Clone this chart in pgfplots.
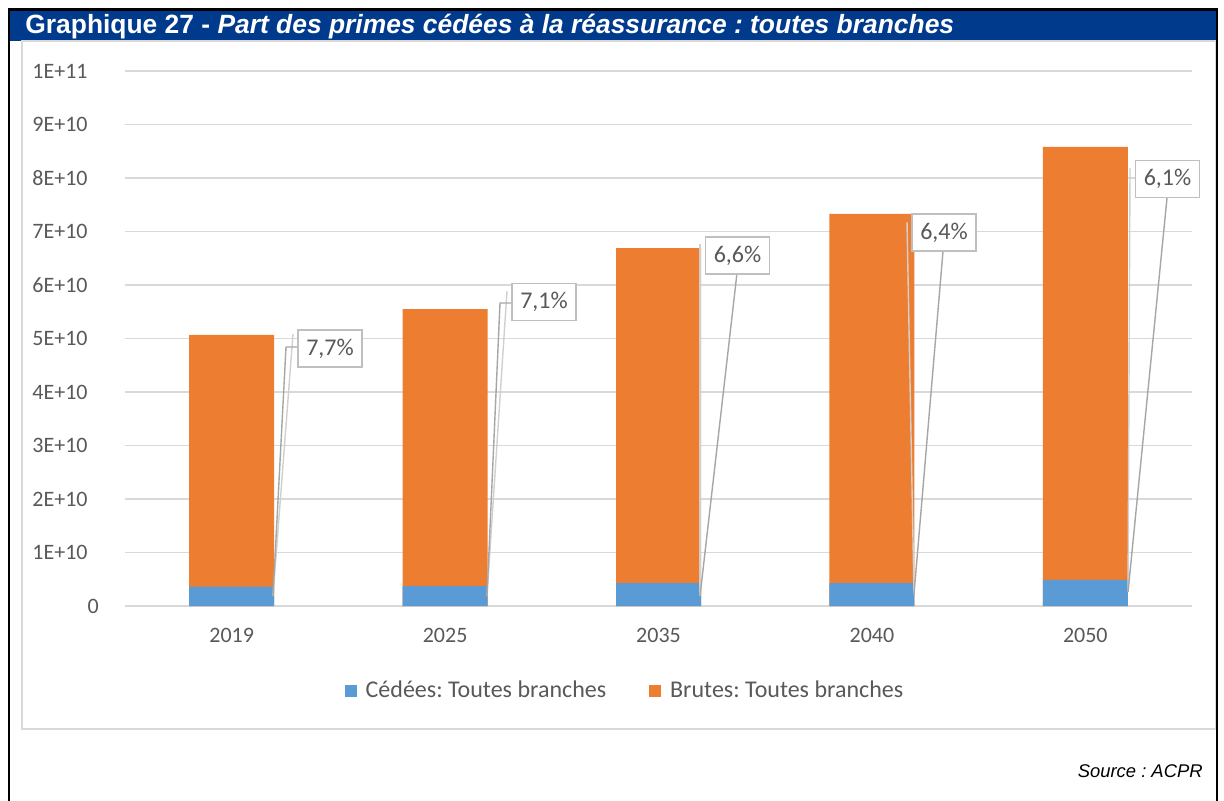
\documentclass[border=0pt]{standalone}
\usepackage{fontspec}
\setmainfont{Carlito}
\newfontfamily\arial{Liberation Sans}
\usepackage{pgfplots}
\pgfplotsset{compat=1.18}

\definecolor{titleblue}{RGB}{0,58,140}
\definecolor{cedblue}{HTML}{5B9BD5}
\definecolor{brutorange}{HTML}{ED7D31}
\definecolor{gridgray}{HTML}{D9D9D9}
\definecolor{txtgray}{HTML}{595959}
\definecolor{leadgray}{HTML}{A6A6A6}
\definecolor{leadlight}{HTML}{D0D0D0}
\definecolor{boxgray}{HTML}{BFBFBF}

\begin{document}
\frenchspacing
\begin{tikzpicture}[x=0.5pt,y=-0.5pt]
\useasboundingbox (0,0) rectangle (1224,801);
\fill[white] (0,0) rectangle (1224,801);
% bandeau titre
\fill[titleblue] (9,10) rectangle (1217,41);
\node[anchor=base west, inner sep=0pt, text=white, font=\arial\bfseries\fontsize{13.2}{15}\selectfont]
  at (25,34) {Graphique 27 - \itshape Part des primes cédées à la réassurance : toutes branches};
% zone du graphique
\draw[gridgray, line width=0.9pt] (22,41) rectangle (1216,729);
% cadre
\draw[black, line width=1.1pt] (9,801) -- (9,9.5) -- (1217,9.5) -- (1217,801);
\node[anchor=base east, inner sep=0pt, font=\arial\itshape\fontsize{9.2}{11}\selectfont]
  at (1203,777) {Source : ACPR};

\begin{axis}[
    at={(62.5pt,-303pt)}, anchor=south west,
    width=533.5pt, height=267.5pt, scale only axis,
    xmin=-0.5, xmax=4.5, ymin=0, ymax=1e11,
    xtick={0,1,2,3,4},
    xticklabels={2019,2025,2035,2040,2050},
    ytick={0,1e10,2e10,3e10,4e10,5e10,6e10,7e10,8e10,9e10,1e11},
    yticklabels={0\kern-6.5pt,1E+10,2E+10,3E+10,4E+10,5E+10,6E+10,7E+10,8E+10,9E+10,1E+11},
    scaled y ticks=false,
    ymajorgrids, grid style={gridgray, line width=0.75pt},
    axis line style={draw=none}, tick style={draw=none}, major tick length=0pt,
    ticklabel style={font=\fontsize{11}{13}\selectfont, text=txtgray},
    yticklabel style={anchor=east, inner sep=0pt, xshift=-18.5pt},
    xticklabel style={anchor=north, inner sep=0pt, yshift=-11pt},
    ybar, bar width=42.5pt, bar shift=0pt,
    reverse legend,
    legend columns=2,
    legend style={at={(0.4695,-0.159)}, anchor=center, draw=none, fill=none,
      font=\fontsize{12}{14}\selectfont, text=txtgray,
      /tikz/every odd column/.append style={column sep=2.5pt},
      /tikz/every even column/.append style={column sep=19.5pt},
      nodes={inner sep=2pt}},
    legend image code/.code={\fill[#1] (0pt,-3pt) rectangle (6pt,3pt);},
  ]
  % primes brutes
  \addplot[fill=brutorange, draw=none] coordinates {
    (0,5.07e10) (1,5.55e10) (2,6.69e10) (3,7.33e10) (4,8.58e10)};
  \addlegendentry{Brutes: Toutes branches}
  % primes cédées
  \addplot[fill=cedblue, draw=none] coordinates {
    (0,0.36e10) (1,0.37e10) (2,0.43e10) (3,0.43e10) (4,0.49e10)};
  \addlegendentry{Cédées: Toutes branches}
\end{axis}

% lignes de rappel
\begin{scope}[line width=0.7pt]
  \draw[leadlight] (293,334) -- (273,596);
  \draw[leadlight] (507,291) -- (487,596);
  \draw[leadlight] (700,244) -- (700,596);
  \draw[leadlight] (907,222) -- (914,594);
  \draw[leadlight] (1130,168) -- (1128,592);
  \draw[leadgray] (298,347) -- (286,347) -- (273,596);
  \draw[leadgray] (512,303) -- (500,303) -- (487,596);
  \draw[leadgray] (737,273) -- (700,596);
  \draw[leadgray] (943,251) -- (914,594);
  \draw[leadgray] (1167,198) -- (1128,592);
\end{scope}
% étiquettes
\tikzset{lab/.style={draw=boxgray, line width=0.75pt, fill=white, text=txtgray,
  font=\fontsize{12}{14}\selectfont, minimum width=32pt, minimum height=18.5pt, inner sep=0pt}}
\node[lab] at (330,348.5) {7,7\%};
\node[lab] at (544,302) {7,1\%};
\node[lab] at (737.5,255.5) {6,6\%};
\node[lab] at (944,232.5) {6,4\%};
\node[lab] at (1167.5,179) {6,1\%};
\end{tikzpicture}
\end{document}
